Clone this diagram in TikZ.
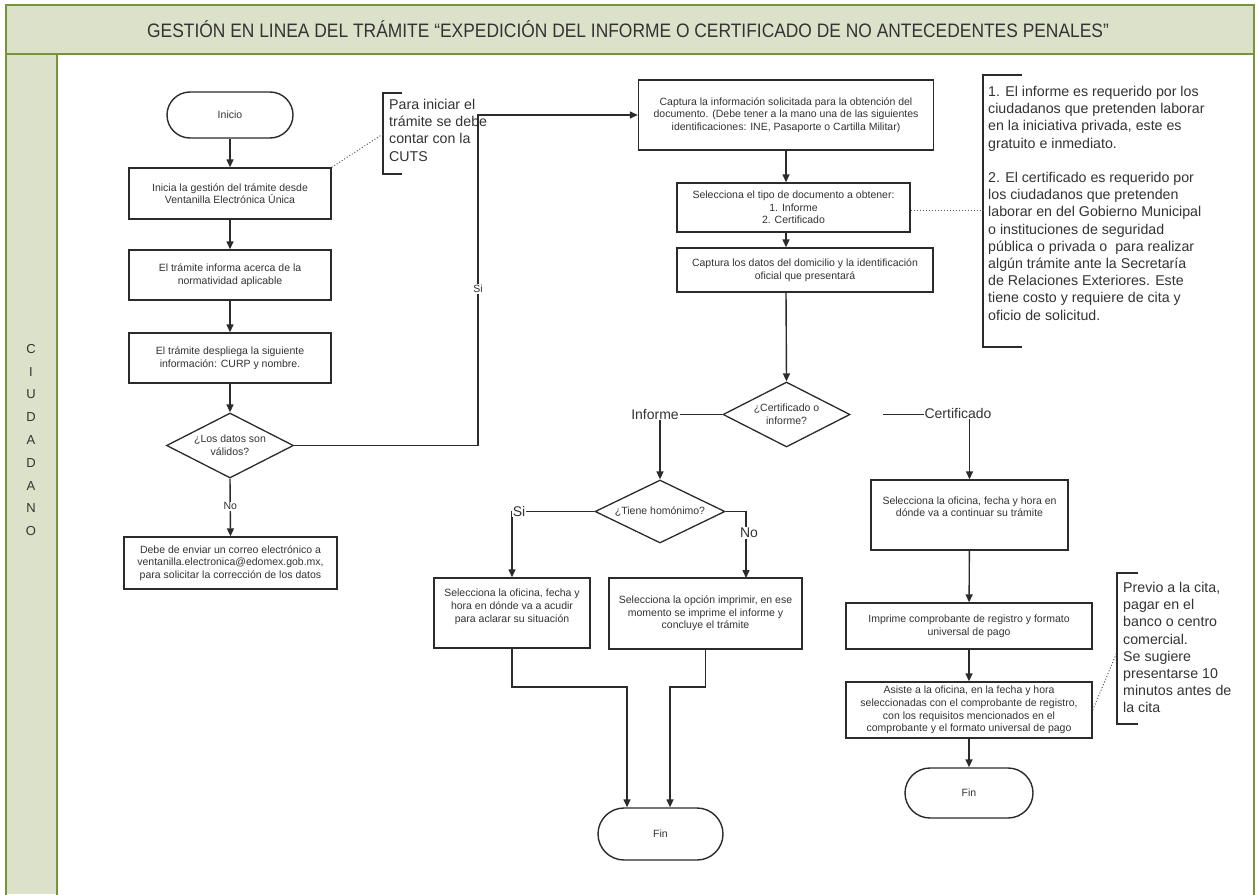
\documentclass[tikz,border=0pt]{standalone}
\usepackage{fontspec}
\usepackage{graphicx}
\setmainfont{Liberation Sans}
\usetikzlibrary{arrows.meta,shapes.geometric}
\definecolor{lanefill}{HTML}{DCE1CA}
\definecolor{laneborder}{HTML}{77933C}
\definecolor{ink}{HTML}{2B2B2B}
\definecolor{txt}{HTML}{333333}
\begin{document}
\begin{tikzpicture}[x=1pt,y=-1pt,
  box/.style={draw=ink,line width=1.4pt,fill=white,inner sep=1pt,align=center,text=txt,
    font=\fontsize{10.5}{12.6}\selectfont},
  term/.style={box,rounded corners=23pt},
  dec/.style={draw=ink,line width=1.3pt,fill=white,shape=diamond,aspect=2,inner sep=0pt,align=center,text=txt,
    font=\fontsize{10.5}{12.6}\selectfont},
  conn/.style={draw=ink,line width=1.4pt},
  arr/.style={conn,-{Triangle[length=8pt,width=7pt]}},
  biglbl/.style={fill=white,inner sep=1pt,text=txt,font=\fontsize{14}{16}\selectfont},
  smllbl/.style={fill=white,inner sep=1pt,text=txt,font=\fontsize{10.5}{12}\selectfont},
  notetxt/.style={anchor=north west,inner sep=0pt,align=left,text=txt,font=\fontsize{14.2}{17.2}\selectfont},
  bracket/.style={draw=ink,line width=1.2pt},
  dots/.style={draw=ink!80,line width=1pt,dotted}
]
\useasboundingbox (0,0) rectangle (1257,894);
\fill[white] (0,0) rectangle (1257,894);
% frame and lane
\fill[lanefill] (6,5) rectangle (1254,54);
\fill[lanefill] (6,54) rectangle (57,894);
\draw[laneborder,line width=2.6pt] (6,900) -- (6,5) -- (1254,5) -- (1254,900);
\draw[laneborder,line width=2.6pt] (6,54) -- (1254,54);
\draw[laneborder,line width=2.6pt] (57,54) -- (57,900);
\node[text=txt,font=\fontsize{17.4}{20}\selectfont] (title) at (628,29)
  {\scalebox{1}[1.12]{GESTIÓN EN LINEA DEL TRÁMITE “EXPEDICIÓN DEL INFORME O CERTIFICADO DE NO ANTECEDENTES PENALES”}};
\node[align=center,text=txt,font=\fontsize{13}{22.8}\selectfont] (lane) at (31,440) {C\\I\\U\\D\\A\\D\\A\\N\\O};

% left column
\node[term,minimum width=126pt,minimum height=46pt] (inicio) at (230,115) {Inicio};
\node[box,minimum width=202pt,minimum height=51pt] (b1) at (230,193.5) {Inicia la gestión del trámite desde\\Ventanilla Electrónica Única};
\node[box,minimum width=202pt,minimum height=50pt] (b2) at (230,275) {El trámite informa acerca de la\\normatividad aplicable};
\node[box,minimum width=202pt,minimum height=50pt] (b3) at (230,358) {El trámite despliega la siguiente\\información: CURP y nombre.};
\node[dec,minimum width=127pt,minimum height=65pt] (d1) at (230,445.5) {¿Los datos son\\válidos?};
\node[box,minimum width=213pt,minimum height=52pt] (b4) at (230.5,563) {Debe de enviar un correo electrónico a\\ventanilla.electronica@edomex.gob.mx,\\para solicitar la corrección de los datos};

% middle column
\node[box,minimum width=295pt,minimum height=70pt] (c1) at (786,115) {Captura la información solicitada para la obtención del\\documento. (Debe tener a la mano una de las siguientes\\identificaciones: INE, Pasaporte o Cartilla Militar)};
\node[box,minimum width=233pt,minimum height=49pt] (c2) at (793.5,207.5) {Selecciona el tipo de documento a obtener:\\1. Informe\\2. Certificado};
\node[box,minimum width=256pt,minimum height=44pt] (c3) at (805,270) {Captura los datos del domicilio y la identificación\\oficial que presentará};
\node[dec,minimum width=127pt,minimum height=65pt] (d2) at (786.5,414.5) {¿Certificado o\\informe?};
\node[dec,minimum width=130pt,minimum height=63pt] (d3) at (660,511.5) {¿Tiene homónimo?};
\node[box,minimum width=156pt,minimum height=70pt] (e1) at (512,613) {Selecciona la oficina, fecha y\\hora en dónde va a acudir\\para aclarar su situación\\[2pt]\mbox{}};
\node[box,minimum width=193pt,minimum height=71pt] (e2) at (705.5,613.5) {Selecciona la opción imprimir, en ese\\momento se imprime el informe y\\concluye el trámite};
\node[term,minimum width=125pt,minimum height=52pt,rounded corners=26pt] (fin1) at (660.5,834) {Fin};

% right column
\node[box,minimum width=197pt,minimum height=70pt] (r1) at (969.5,515) {Selecciona la oficina, fecha y hora en\\dónde va a continuar su trámite\\[4pt]\mbox{}};
\node[box,minimum width=246pt,minimum height=46pt] (r2) at (969,626) {Imprime comprobante de registro y formato\\universal de pago};
\node[box,minimum width=246pt,minimum height=56pt] (r3) at (969,710) {Asiste a la oficina, en la fecha y hora\\seleccionadas con el comprobante de registro,\\con los requisitos mencionados en el\\comprobante y el formato universal de pago};
\node[term,minimum width=128pt,minimum height=50pt,rounded corners=25pt] (fin2) at (969,793) {Fin};

% notes
\draw[bracket] (402,93) -- (383,93) -- (383,174) -- (402,174);
\node[notetxt] (n1) at (389,99) {Para iniciar el\\trámite se debe\\contar con la\\CUTS};
\draw[bracket] (1022,75) -- (983,75) -- (983,347) -- (1022,347);
\node[notetxt] (n2) at (988,86) {1. El informe es requerido por los\\ciudadanos que pretenden laborar\\en la iniciativa privada, este es\\gratuito e inmediato.\\[17.2pt]2. El certificado es requerido por\\los ciudadanos que pretenden\\laborar en del Gobierno Municipal\\o instituciones de seguridad\\pública o privada o\ \ para realizar\\algún trámite ante la Secretaría\\de Relaciones Exteriores. Este\\tiene costo y requiere de cita y\\oficio de solicitud.};
\draw[bracket] (1138,573) -- (1117,573) -- (1117,724) -- (1138,724);
\node[notetxt] (n3) at (1123,582) {Previo a la cita,\\pagar en el\\banco o centro\\comercial.\\Se sugiere\\presentarse 10\\minutos antes de\\la cita};

\coordinate (n1in) at (383,134);
\coordinate (n2in) at (983,210);
\coordinate (n3in) at (1117,652);
\draw[dots] (b1.north east) -- (n1in);
\draw[dots] (c2.east |- n2in) -- (n2in);
\draw[dots] (r3.east) -- (n3in);

% connectors left
\draw[arr] (inicio) -- (b1);
\draw[arr] (b1) -- (b2);
\draw[arr] (b2) -- (b3);
\draw[arr] (b3) -- (d1);
\draw[arr] (d1.south) -- (b4.north) node[smllbl,pos=0.48] (lno) {No};
\coordinate (siT) at (478,115);
\draw[arr] (d1.east) -| (siT) -- (c1.west);
\node[smllbl] (lsi) at (478,289) {Si};

% connectors middle
\draw[arr] (c1.south) -- (c1.south |- c2.north);
\draw[arr] (c1.south |- c2.south) -- (c1.south |- c3.north);
\draw[arr] (c1.south |- c3.south) -- (d2.north);
\draw[arr] (d2.west) -| (d3.north);
\node[biglbl] (linf) at (655,414) {Informe};
\coordinate (cgap) at (883,414.5);
\draw[arr] (cgap) -| (r1.north);
\node[biglbl] (lcert) at (958,413) {Certificado};
\draw[arr] (d3.west) -| (e1.north);
\node[biglbl] (lsi2) at (519,511) {Si};
\coordinate (e2in) at (746,578);
\draw[arr] (d3.east) -| (e2in);
\node[biglbl] (lno2) at (749,533) {No};
\coordinate (mL) at (627,687);
\coordinate (mR) at (670,687);
\draw[arr] (e1.south) |- (mL) -- (mL |- fin1.north);
\draw[arr] (e2.south) |- (mR) -- (mR |- fin1.north);

% connectors right
\draw[arr] (r1) -- (r2);
\draw[arr] (r2) -- (r3);
\draw[arr] (r3) -- (fin2);
\end{tikzpicture}
\end{document}
